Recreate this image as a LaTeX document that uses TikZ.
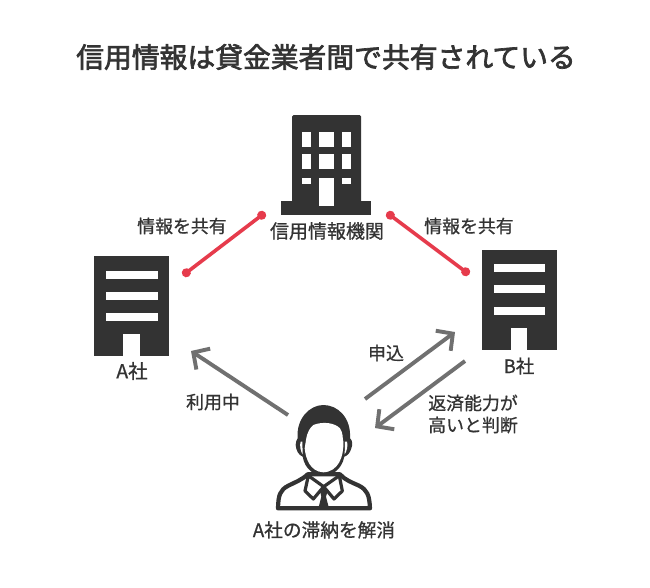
\documentclass[tikz,border=0pt]{standalone}
\usepackage{fontspec}
\setmainfont{Noto Sans CJK JP}
\newfontfamily\labelfont[FakeBold=0.8]{Noto Sans CJK JP}
\newfontfamily\titlefont[FakeBold=2.4]{Noto Sans CJK JP}
\usetikzlibrary{arrows.meta}
\definecolor{ink}{HTML}{333333}
\definecolor{linkred}{HTML}{E63B4C}
\definecolor{arrowgray}{HTML}{707070}
\tikzset{
  x=1pt,y=-1pt,
  label text/.style={text=ink,font=\labelfont\fontsize{17.9}{22}\selectfont,inner sep=0pt,align=center},
  title text/.style={text=ink,font=\titlefont\fontsize{27.8}{32}\selectfont,inner sep=0pt},
  solid ink/.style={fill=ink,draw=none},
  cutout/.style={fill=white,draw=none},
  redlink/.style={draw=linkred,line width=3.6pt,{Circle[length=8.8pt,width=8.8pt]}-{Circle[length=8.8pt,width=8.8pt]},shorten <=-4pt,shorten >=-4pt},
  grayarrow/.style={draw=arrowgray,line width=3.9pt,-{Straight Barb[length=12pt,width=25pt,line width=3.9pt]}},
}
\begin{document}
\begin{tikzpicture}
\useasboundingbox (0,0) rectangle (650,587);
\fill[white] (0,0) rectangle (650,587);

\node[title text] (title) at (326,57) {信用情報は貸金業者間で共有されている};

% credit bureau building
\fill[solid ink,rounded corners=1.5pt] (292,115) rectangle (361,203);
\fill[solid ink] (281,201) rectangle (371,215);
\foreach \xa/\xb in {302.3/310.7,319.3/334.3,342.3/350.7}{
  \fill[cutout] (\xa,132.3) rectangle (\xb,147.3);
  \fill[cutout] (\xa,154.3) rectangle (\xb,169.3);
}
\fill[cutout] (302.3,178.3) rectangle (310.7,184);
\fill[cutout] (342.3,178.3) rectangle (350.7,184);
\fill[cutout] (319.3,178.3) rectangle (334.3,206);

% company A
\fill[solid ink] (94.3,256) rectangle (169,356.3);
\foreach \ya in {270.7,291.7,313}{
  \fill[cutout] (106,\ya) rectangle (157.7,\ya+8);
}
\fill[cutout] (123.3,334.3) rectangle (140,356.3);

% company B
\fill[solid ink] (482,250) rectangle (556.7,349.7);
\foreach \ya in {264,285.3,306.5}{
  \fill[cutout] (493.7,\ya) rectangle (545.3,\ya+8);
}
\fill[cutout] (511.3,328) rectangle (527.3,349.7);

% person
\begin{scope}[shift={(260,395)},x=0.3333pt,y=-0.3333pt]
  % body
  \draw[ink,line width=4.2pt,fill=white,line join=round]
    (54,340) .. controls (55,300) and (60,285) .. (85,272)
    .. controls (105,262) and (125,255) .. (143,238)
    -- (240,238)
    .. controls (255,255) and (275,262) .. (297,272)
    .. controls (322,285) and (328,300) .. (330,340) -- cycle;
  % hair and head
  \fill[ink] (113,130) .. controls (108,70) and (150,30) .. (190,30)
    .. controls (235,30) and (274,70) .. (270,130)
    .. controls (278,135) and (278,150) .. (274,160)
    .. controls (270,175) and (262,182) .. (253,185)
    .. controls (245,225) and (215,242) .. (190,242)
    .. controls (165,242) and (135,225) .. (128,185)
    .. controls (115,180) and (108,165) .. (107,150)
    .. controls (107,140) and (110,135) .. (113,130) -- cycle;
  % face
  \fill[white] (138,135) .. controls (142,110) and (150,98) .. (160,90)
    .. controls (190,78) and (225,84) .. (240,100)
    .. controls (250,115) and (247,128) .. (250,140)
    .. controls (252,185) and (235,230) .. (190,232)
    .. controls (150,230) and (137,190) .. (134,160) -- cycle;
  % ear highlights
  \fill[white] (122,140) .. controls (118,150) and (122,170) .. (128,178) -- (127,140) -- cycle;
  \fill[white] (261,140) .. controls (265,150) and (260,170) .. (254,178) -- (255,140) -- cycle;
  % collar
  \draw[ink,line width=3.2pt,fill=white,line join=round] (145,242) -- (135,288) -- (160,312) -- (191,275) -- cycle;
  \draw[ink,line width=3.2pt,fill=white,line join=round] (238,242) -- (247,288) -- (222,312) -- (191,275) -- cycle;
  % tie
  \fill[ink] (180,288) -- (191,278) -- (203,288) -- (198,305) -- (207,340) -- (175,340) -- (184,305) -- cycle;
\end{scope}

% labels
\node[label text] (infoL) at (182,226) {情報を共有};
\node[label text] (infoR) at (469,226) {情報を共有};
\node[label text,font=\labelfont\fontsize{19}{22}\selectfont] (bureau) at (327,231) {信用情報機関};
\node[label text,font=\labelfont\fontsize{19.5}{22}\selectfont] (compA) at (132,371) {A社};
\node[label text,font=\labelfont\fontsize{18.5}{22}\selectfont] (compB) at (519,366) {B社};
\node[label text] (apply) at (386,353) {申込};
\node[label text] (judge) at (473,414) {返済能力が\\高いと判断};
\node[label text] (inuse) at (213,402) {利用中};
\node[label text,font=\labelfont\fontsize{18.7}{22}\selectfont] (resolve) at (324,530) {A社の滞納を解消};

% connectors
\coordinate (bureauL) at (262,215);
\coordinate (bureauR) at (390,215);
\coordinate (linkA) at (186,273);
\coordinate (linkB) at (466,272);
\draw[redlink] (bureauL) -- (linkA);
\draw[redlink] (bureauR) -- (linkB);

\coordinate (personA) at (288,415);
\coordinate (tipA) at (191,351);
\coordinate (personB) at (365,399);
\coordinate (tipB) at (455,332);
\coordinate (fromB) at (465,361);
\coordinate (tipP) at (375,428);
\draw[grayarrow] (personA) -- (tipA);
\draw[grayarrow] (personB) -- (tipB);
\draw[grayarrow] (fromB) -- (tipP);
\end{tikzpicture}
\end{document}
